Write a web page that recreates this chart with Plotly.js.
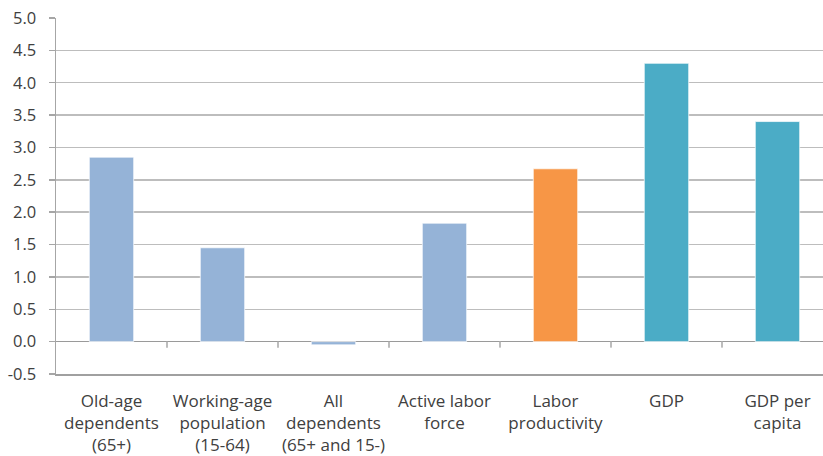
<!DOCTYPE html>
<html>
<head>
<meta charset="utf-8">
<script src="https://cdn.plot.ly/plotly-3.0.1.min.js"></script>
<style>
  html, body { margin: 0; padding: 0; background: #ffffff; }
  #chart { width: 823px; height: 456px; }
</style>
</head>
<body>
<div id="chart"></div>
<script>
// Category labels (line breaks shown as <br>)
const categories = [
  "Old-age<br>dependents<br>(65+)",
  "Working-age<br>population<br>(15-64)",
  "All<br>dependents<br>(65+ and 15-)",
  "Active labor<br>force",
  "Labor<br>productivity",
  "GDP",
  "GDP per<br>capita"
];

// Growth values per category
const values = [2.85, 1.45, -0.05, 1.83, 2.67, 4.30, 3.40];

// Colour group per category
const groups = ["demo", "demo", "demo", "demo", "prod", "output", "output"];
const groupColors = { demo: "#95B3D7", prod: "#F79646", output: "#4BACC6" };

const yTicks = [-0.5, 0, 0.5, 1, 1.5, 2, 2.5, 3, 3.5, 4, 4.5, 5];

const xIdx = categories.map((_, i) => i);

const trace = {
  type: "bar",
  x: xIdx,
  y: values,
  width: 0.4,
  marker: {
    color: groups.map(g => groupColors[g]),
    line: { color: "rgba(255,255,255,0.7)", width: 1 }
  },
  hoverinfo: "skip"
};

// Small tick marks on the zero line between categories
const boundaryTicks = xIdx.slice(0, -1).map(i => ({
  type: "line",
  xref: "x",
  yref: "y",
  x0: i + 0.5,
  x1: i + 0.5,
  ysizemode: "pixel",
  yanchor: 0,
  y0: 0,
  y1: -6,
  line: { color: "#BDBDBD", width: 2 },
  layer: "above"
}));

const labelFont = { family: "Open Sans, sans-serif", size: 17, color: "#404040" };

const layout = {
  width: 823,
  height: 456,
  margin: { l: 56, r: 0, t: 18, b: 82, pad: 0 },
  paper_bgcolor: "#ffffff",
  plot_bgcolor: "#ffffff",
  showlegend: false,
  bargap: 0,
  font: labelFont,
  xaxis: {
    type: "linear",
    range: [-0.5, 6.41],
    tickvals: xIdx,
    ticktext: categories,
    ticks: "",
    showgrid: false,
    zeroline: false,
    showline: true,
    linecolor: "#A0A0A0",
    linewidth: 1.5,
    ticklabelstandoff: 11,
    tickfont: labelFont
  },
  yaxis: {
    range: [-0.5, 5.0],
    tickvals: yTicks,
    ticktext: yTicks.map(v => v.toFixed(1)),
    ticks: "outside",
    ticklen: 6,
    tickcolor: "#A6A6A6",
    tickwidth: 1.5,
    showline: true,
    linecolor: "#A6A6A6",
    linewidth: 1.5,
    showgrid: true,
    gridcolor: "#BDBDBD",
    gridwidth: 1.5,
    zeroline: true,
    zerolinecolor: "#9A9A9A",
    zerolinewidth: 1.5,
    ticklabelstandoff: 9,
    tickfont: { family: "Open Sans, sans-serif", size: 16.5, color: "#404040" }
  },
  shapes: boundaryTicks
};

Plotly.newPlot("chart", [trace], layout, { displayModeBar: false, staticPlot: true });
</script>
</body>
</html>
